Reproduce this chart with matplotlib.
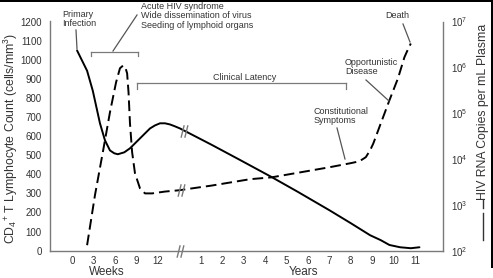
import numpy as np
import matplotlib
matplotlib.use("Agg")
import matplotlib.pyplot as plt
from matplotlib.path import Path
from matplotlib.lines import Line2D
from matplotlib.patches import Rectangle
from matplotlib.ticker import FixedLocator, LogLocator, LogFormatterMathtext, NullLocator

plt.rcParams['font.family'] = ['Liberation Sans', 'DejaVu Sans']
plt.rcParams['mathtext.fontset'] = 'custom'
plt.rcParams['mathtext.rm'] = 'Liberation Sans'
plt.rcParams['mathtext.it'] = 'Liberation Sans:italic'
plt.rcParams['mathtext.bf'] = 'Liberation Sans:bold'

# ---------------- data ----------------
week_ticks = [0, 3, 6, 9, 12]
year_ticks = [1, 2, 3, 4, 5, 6, 7, 8, 9, 10, 11]

# CD4 count (cells/mm3): early phase in weeks, late phase in years
cd4_weeks = [0.7, 1.4, 2.1, 2.9, 3.9, 4.6, 5.3, 5.9, 6.4, 7.3, 8.1, 8.8, 9.5,
             10.2, 10.9, 11.6, 12.3, 13.0, 13.7, 14.4, 15.1]
cd4_weeks_vals = [1048, 995, 942, 837, 667, 578, 525, 510, 505, 515, 536, 562, 588,
                  614, 640, 656, 667, 667, 661, 651, 640]
cd4_years = [0.5, 1.5, 2.8, 4.3, 5.5, 7.0, 8.0, 8.9, 9.4, 9.8, 10.3, 10.8, 11.2]
cd4_years_vals = [613, 555, 477, 386, 310, 212, 144, 81, 55, 30, 18, 13, 18]

# HIV RNA copies per mL plasma (log10)
rna_weeks = [2.1, 3.2, 4.35, 5.3, 6.15, 6.7, 7.14, 7.45, 7.7, 7.9, 8.1, 8.4, 8.8,
             9.5, 10.2, 11.2, 13.0, 15.1]
rna_weeks_log10 = [2.12, 3.21, 4.19, 5.02, 5.67, 5.98, 6.04, 6.0, 5.87, 5.45, 4.78,
                   4.15, 3.69, 3.36, 3.25, 3.25, 3.29, 3.32]
rna_years = [0.3, 1.5, 3.3, 4.3, 7.0, 8.0, 8.4, 8.7, 8.9, 9.05, 9.4, 9.8, 10.2,
             10.5, 10.7, 10.8]
rna_years_log10 = [3.34, 3.42, 3.56, 3.60, 3.82, 3.91, 3.95, 4.04, 4.19, 4.34, 4.78,
                   5.28, 5.76, 6.22, 6.43, 6.52]

# ---------------- helpers ----------------
W, H = 493, 278
BREAK = 5.0  # axis position where weeks change to years


def wpos(w):
    return np.asarray(w, dtype=float) / 3.0


def ypos(y):
    return np.asarray(y, dtype=float) + BREAK


def fp(x, y):
    """pixel (from top-left) -> figure fraction"""
    return (x / W, 1 - y / H)


TEXT = '#333333'
GREY = '#7a7a7a'

fig = plt.figure(figsize=(W / 100, H / 100), dpi=100)
fig.patch.set_facecolor('white')
ax = fig.add_axes([50 / W, (H - 250.7) / H, (443 - 50) / W, (250.7 - 21.5) / H])
ax2 = ax.twinx()

x_cd4 = np.concatenate([wpos(cd4_weeks), ypos(cd4_years)])
y_cd4 = np.concatenate([cd4_weeks_vals, cd4_years_vals])
x_rna = np.concatenate([wpos(rna_weeks), ypos(rna_years)])
y_rna = 10 ** np.concatenate([rna_weeks_log10, rna_years_log10])

ax.plot(x_cd4, y_cd4, color='black', lw=1.4, solid_capstyle='round', zorder=3)
ax2.plot(x_rna, y_rna, color='black', lw=1.4, dashes=(5.5, 2.6), zorder=3)

ax.set_xlim(-1.03, 17.3)
ax.set_ylim(0, 1200)
ax2.set_yscale('log')
ax2.set_ylim(1e2, 1e7)

# ticks
tick_pos = list(wpos(week_ticks)) + list(ypos(year_ticks))
tick_lab = [str(t) for t in week_ticks] + [str(t) for t in year_ticks]
ax.set_xticks(tick_pos)
ax.set_xticklabels(tick_lab)
ax.set_yticks(np.arange(0, 1201, 100))
ax.tick_params(axis='both', length=0, labelsize=7, colors=TEXT)
ax.tick_params(axis='y', pad=6)
ax.tick_params(axis='x', pad=3.5)
ax2.yaxis.set_major_locator(LogLocator(base=10, numticks=10))
ax2.yaxis.set_major_formatter(LogFormatterMathtext())
ax2.yaxis.set_minor_locator(NullLocator())
ax2.tick_params(axis='y', length=0, labelsize=7, colors=TEXT, pad=6)

for a in (ax, ax2):
    a.spines['top'].set_visible(False)
    for s in ('left', 'right', 'bottom'):
        a.spines[s].set_color(GREY)
        a.spines[s].set_linewidth(1.0)
ax.spines['right'].set_visible(False)
ax2.spines['left'].set_visible(False)
ax2.spines['bottom'].set_visible(False)
ax.patch.set_visible(False)

# axis break marks "//"
slash = Path([(-0.55, -1), (-0.05, 1), (0.05, -1), (0.55, 1)],
             [Path.MOVETO, Path.LINETO, Path.MOVETO, Path.LINETO])
bx = BREAK + 0.08
ax.plot([BREAK + 0.05], [0], marker=slash, ms=9, mec=GREY, mfc='none', mew=1.0,
        clip_on=False, zorder=4)
ax.plot([bx + 0.15], [np.interp(bx + 0.15, x_cd4, y_cd4)], marker=slash, ms=9,
        mec=GREY, mfc='none', mew=1.0, zorder=4)
ax2.plot([bx], [10 ** np.interp(bx, x_rna, np.log10(y_rna))], marker=slash, ms=9,
         mec=GREY, mfc='none', mew=1.0, zorder=4)

# axis labels
fig.text(*fp(11, 138), 'CD$_4$$^{+}$ T Lymphocyte Count (cells/mm$^3$)', rotation=90,
         ha='center', va='center', fontsize=8.8, color=TEXT)
fig.text(*fp(483, 112), 'HIV RNA Copies per mL Plasma', rotation=90,
         ha='center', va='center', fontsize=8.8, color=TEXT)
fig.add_artist(Line2D([483 / W, 483 / W], [1 - 240 / H, 1 - 213 / H], color=TEXT, lw=1.0))
fig.add_artist(Line2D([483 / W, 483 / W], [1 - 208 / H, 1 - 200 / H], color=TEXT, lw=1.0))
fig.text(*fp(107, 272), 'Weeks', ha='center', va='center', fontsize=8.5, color=TEXT)
fig.text(*fp(303, 272), 'Years', ha='center', va='center', fontsize=8.5, color=TEXT)

# annotations
AN = 6.5
fig.text(*fp(62, 19), 'Primary\nInfection', ha='left', va='center', fontsize=AN,
         color=TEXT, linespacing=1.05)
fig.text(*fp(141, 16), 'Acute HIV syndrome\nWide dissemination of virus\nSeeding of lymphoid organs',
         ha='left', va='center', fontsize=AN, color=TEXT, linespacing=1.05)
fig.text(*fp(245, 77), 'Clinical Latency', ha='center', va='center', fontsize=AN, color=TEXT)
fig.text(*fp(345, 67), 'Opportunistic\nDisease', ha='left', va='center', fontsize=AN,
         color=TEXT, linespacing=1.05)
fig.text(*fp(314, 116), 'Constitutional\nSymptoms', ha='left', va='center', fontsize=AN,
         color=TEXT, linespacing=1.05)
fig.text(*fp(397, 16), 'Death', ha='center', va='center', fontsize=AN, color=TEXT)


def seg(p0, p1, color='#555555', lw=0.9):
    fig.add_artist(Line2D([p0[0] / W, p1[0] / W], [1 - p0[1] / H, 1 - p1[1] / H],
                          color=color, lw=lw))


# pointers
seg((76, 30), (77, 49))
seg((137, 15), (113, 51))
seg((366, 80), (389, 101))
seg((337, 128), (345, 159))
seg((403, 24), (410, 42))
# brackets
seg((91, 52), (138, 52), GREY)
seg((91, 52), (91, 56), GREY)
seg((138, 52), (138, 56), GREY)
seg((137, 83), (346, 83), GREY)
seg((137, 83), (137, 89), GREY)
seg((346, 83), (346, 89), GREY)

# image frame edges
fig.add_artist(Rectangle((0, 1 - 1.5 / H), 1, 1.5 / H, color='black', lw=0))
fig.add_artist(Rectangle((491 / W, 1 - 268 / H), 2 / W, 268 / H, color='black', lw=0))

fig.savefig('out.png', dpi=100)
